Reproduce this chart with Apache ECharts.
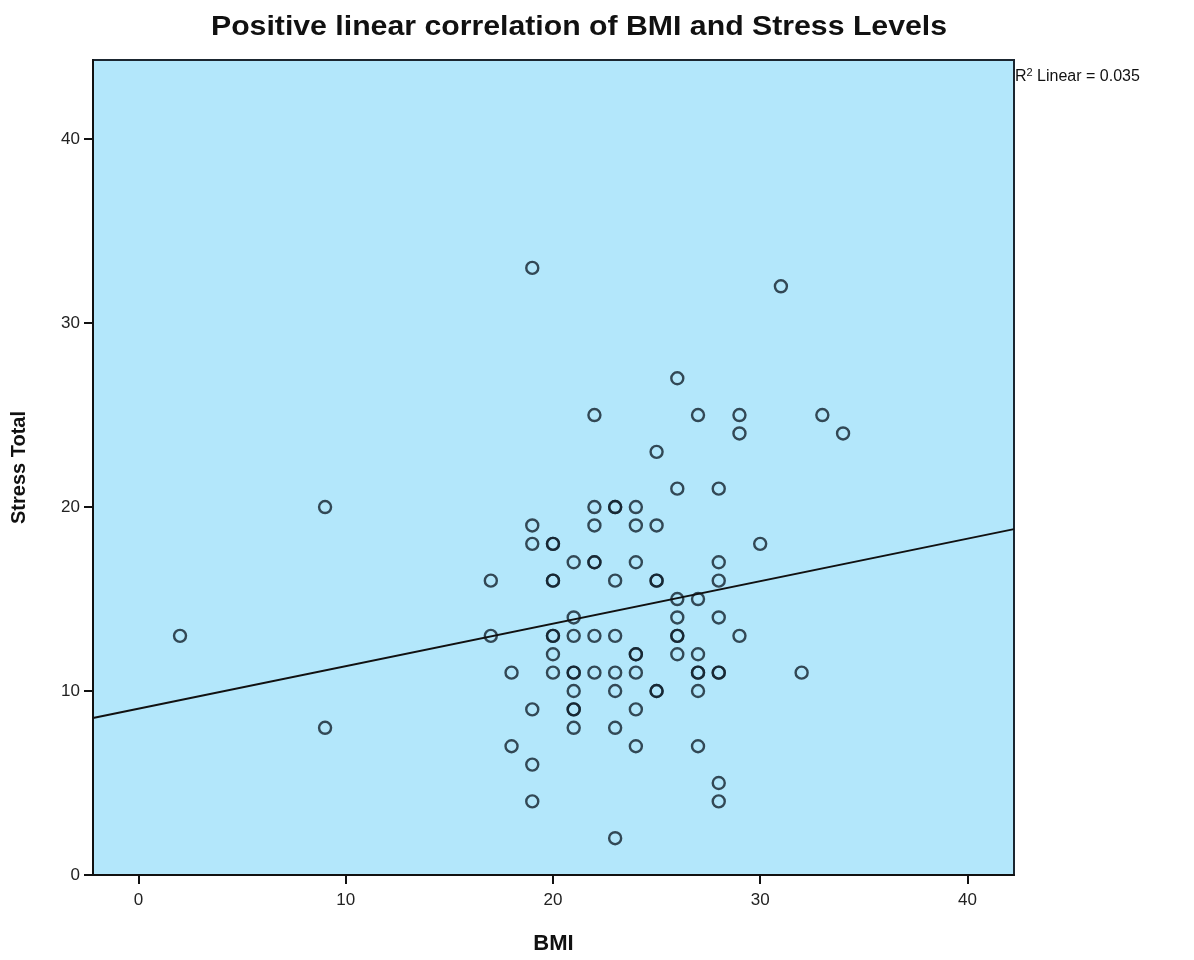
<!DOCTYPE html>
<html>
<head>
<meta charset="utf-8">
<title>BMI vs Stress</title>
<script src="https://cdn.jsdelivr.net/npm/echarts@6/dist/echarts.min.js"></script>
<style>
  html, body { margin: 0; padding: 0; background: #fff; }
  #main { width: 1194px; height: 960px; }
</style>
</head>
<body>
<div id="main"></div>
<script>
// data (repeated pairs are the darker circles)
const bmi = [
  2, 9, 9, 17, 17, 18, 18, 19, 19, 19, 19, 19, 19,
  20, 20, 20, 20, 20, 20, 20, 20,
  21, 21, 21, 21, 21, 21, 21, 21, 21,
  22, 22, 22, 22, 22, 22, 22,
  23, 23, 23, 23, 23, 23, 23, 23,
  24, 24, 24, 24, 24, 24, 24, 24,
  25, 25, 25, 25, 25, 25,
  26, 26, 26, 26, 26, 26, 26,
  27, 27, 27, 27, 27, 27, 27,
  28, 28, 28, 28, 28, 28, 28, 28,
  29, 29, 29, 30, 31, 32, 33, 34
];
const stress = [
  13, 20, 8, 16, 13, 11, 7, 33, 19, 18, 9, 6, 4,
  18, 18, 16, 16, 13, 13, 12, 11,
  17, 14, 13, 11, 11, 10, 9, 9, 8,
  25, 20, 19, 17, 17, 13, 11,
  20, 20, 16, 13, 11, 10, 8, 2,
  20, 19, 17, 12, 12, 11, 9, 7,
  23, 19, 16, 16, 10, 10,
  27, 21, 15, 14, 13, 13, 12,
  25, 15, 12, 11, 11, 10, 7,
  21, 17, 16, 14, 11, 11, 5, 4,
  25, 24, 13, 18, 32, 11, 25, 24
];

// fit line as drawn (R2 linear = 0.035)
const fitIntercept = 9.04;
const fitSlope = 0.231;
const r2Text = '0.035';

const xTicks = [0, 10, 20, 30, 40];
const yTicks = [0, 10, 20, 30, 40];
const xMin = -2.2, xMax = 42.25;
const yMin = 0, yMax = 44.3;

const points = bmi.map((b, i) => [b, stress[i]]);
const fitLine = [xMin, xMax].map(x => [x, fitIntercept + fitSlope * x]);

const chart = echarts.init(document.getElementById('main'));

const font = '"Liberation Sans", Arial, sans-serif';

const option = {
  animation: false,
  backgroundColor: '#ffffff',
  grid: {
    left: 93,
    right: 180,
    top: 60,
    bottom: 83,
    show: true,
    backgroundColor: '#b3e7fb',
    borderColor: '#1b2630',
    borderWidth: 2
  },
  graphic: [
    {
      type: 'text',
      x: 579,
      y: 28,
      scaleX: 1.12,
      style: {
        text: 'Positive linear correlation of BMI and Stress Levels',
        font: 'bold 27px ' + font,
        fill: '#111',
        align: 'center',
        verticalAlign: 'middle'
      }
    },
    {
      type: 'text',
      x: 1015,
      y: 77,
      style: {
        text: '{r|R}{sup|2}{r| Linear = ' + r2Text + '}',
        fill: '#111',
        verticalAlign: 'middle',
        rich: {
          r: { fontSize: 16, fontFamily: font, fill: '#111' },
          sup: { fontSize: 11, fontFamily: font, fill: '#111', verticalAlign: 'top', padding: [0, 0, 9, 0] }
        }
      }
    }
  ],
  xAxis: {
    type: 'value',
    min: xMin,
    max: xMax,
    name: 'BMI',
    nameLocation: 'middle',
    nameGap: 58,
    nameTextStyle: { fontFamily: font, fontWeight: 'bold', fontSize: 22, color: '#111' },
    axisLine: { onZero: false, lineStyle: { color: '#111', width: 2 } },
    axisTick: { show: true, length: 9, customValues: xTicks, lineStyle: { color: '#111', width: 2 } },
    axisLabel: { customValues: xTicks, margin: 17, fontFamily: font, fontSize: 17, color: '#222' },
    splitLine: { show: false }
  },
  yAxis: {
    type: 'value',
    min: yMin,
    max: yMax,
    name: 'Stress Total',
    nameLocation: 'middle',
    nameGap: 64,
    nameTextStyle: { fontFamily: font, fontWeight: 'bold', fontSize: 20, color: '#111' },
    axisLine: { onZero: false, lineStyle: { color: '#111', width: 2 } },
    axisTick: { show: true, length: 9, customValues: yTicks, lineStyle: { color: '#111', width: 2 } },
    axisLabel: { customValues: yTicks, margin: 13, fontFamily: font, fontSize: 17, color: '#222' },
    splitLine: { show: false }
  },
  series: [
    {
      type: 'scatter',
      data: points,
      symbol: 'circle',
      symbolSize: 12,
      itemStyle: {
        color: 'rgba(0,0,0,0)',
        borderColor: '#12202c',
        borderWidth: 2.4
      },
      z: 3
    },
    {
      type: 'line',
      data: fitLine,
      showSymbol: false,
      lineStyle: { color: '#111', width: 2 },
      z: 4
    }
  ]
};

chart.setOption(option);
</script>
</body>
</html>
